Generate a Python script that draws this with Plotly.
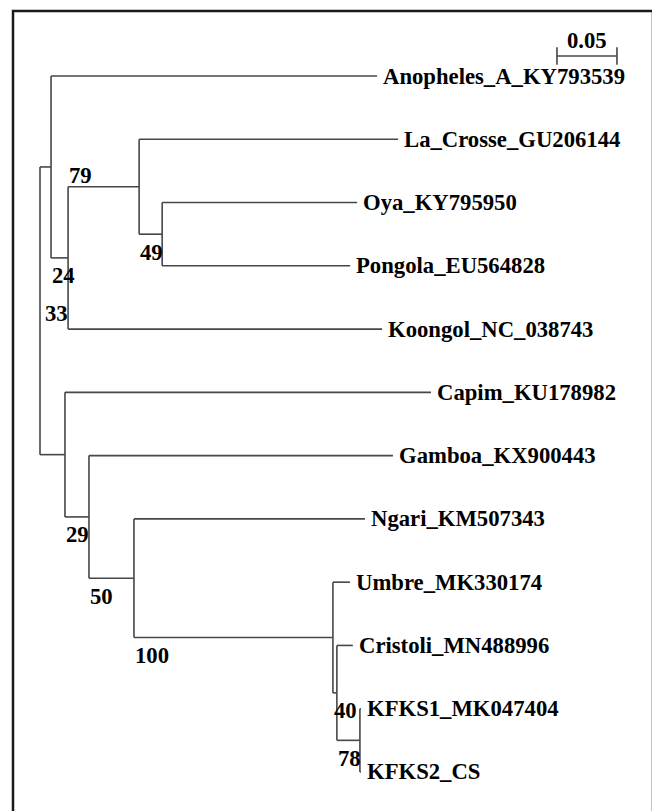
import plotly.graph_objects as go

# ---------------- data ----------------
tip_labels = [
    "Anopheles_A_KY793539", "La_Crosse_GU206144", "Oya_KY795950",
    "Pongola_EU564828", "Koongol_NC_038743", "Capim_KU178982",
    "Gamboa_KX900443", "Ngari_KM507343", "Umbre_MK330174",
    "Cristoli_MN488996", "KFKS1_MK047404", "KFKS2_CS",
]

# tree edges: node id, parent id, branch length (substitutions/site)
node_ids = [
    "nA", "n79", "nLC", "n49",
    "Anopheles_A_KY793539", "La_Crosse_GU206144", "Oya_KY795950",
    "Pongola_EU564828", "Koongol_NC_038743",
    "nB", "n29", "n50", "n100", "n40", "n78",
    "Capim_KU178982", "Gamboa_KX900443", "Ngari_KM507343",
    "Umbre_MK330174", "Cristoli_MN488996", "KFKS1_MK047404", "KFKS2_CS",
]
node_parents = [
    "root", "nA", "n79", "nLC",
    "nA", "nLC", "n49",
    "n49", "n79",
    "root", "nB", "n29", "n50", "n100", "n40",
    "nB", "n29", "n50",
    "n100", "n40", "n78", "n78",
]
branch_lengths = [
    0.0092, 0.0142, 0.0592, 0.0192,
    0.2717, 0.2158, 0.1625,
    0.1567, 0.2617,
    0.0208, 0.0200, 0.0375, 0.1658, 0.0033, 0.0192,
    0.3050, 0.2533, 0.1925,
    0.0142, 0.0133, 0.0008, 0.0008,
]

boot_nodes = ["nLC", "n49", "n79", "nA", "n29", "n50", "n100", "n40", "n78"]
boot_values = [79, 49, 24, 33, 29, 50, 100, 40, 78]

scale_length = 0.05
scale_label = "0.05"

# ---------------- layout computation ----------------
parent_of = dict(zip(node_ids, node_parents))
blen = dict(zip(node_ids, branch_lengths))
children = {}
for nid, par in zip(node_ids, node_parents):
    children.setdefault(par, []).append(nid)

depth = {"root": 0.0}
def set_depth(n):
    for c in children.get(n, []):
        depth[c] = depth[n] + blen[c]
        set_depth(c)
set_depth("root")

ypos = {t: i for i, t in enumerate(tip_labels)}
def set_y(n):
    if n in ypos:
        return ypos[n]
    ys = [set_y(c) for c in children[n]]
    ypos[n] = (min(ys) + max(ys)) / 2
    return ypos[n]
set_y("root")

xs, ys = [], []
for n, ch in children.items():
    cy = [ypos[c] for c in ch]
    xs += [depth[n], depth[n], None]
    ys += [min(cy), max(cy), None]
    for c in ch:
        xs += [depth[n], depth[c], None]
        ys += [ypos[c], ypos[c], None]

LINE_COLOR = "#474747"
fig = go.Figure()
fig.add_trace(go.Scatter(x=xs, y=ys, mode="lines",
                         line=dict(color=LINE_COLOR, width=1.6),
                         hoverinfo="skip", showlegend=False))

FONT = dict(family="Liberation Serif, Times New Roman, serif", size=22.7,
            color="black", weight="bold")

annotations = []
for t in tip_labels:
    annotations.append(dict(x=depth[t], y=ypos[t], text=t, showarrow=False,
                            xanchor="left", yanchor="middle", xshift=4,
                            font=FONT))

boot_shift = {"nLC": (0, 11), "nA": (4, -147)}
for n, v in zip(boot_nodes, boot_values):
    dx, dy = boot_shift.get(n, (0, -18))
    annotations.append(dict(x=depth[parent_of[n]], y=ypos[n], text=str(v),
                            showarrow=False, xanchor="left", yanchor="middle",
                            xshift=dx - 1, yshift=dy, font=FONT))

# scale bar
sx0 = 0.4308
sy = -0.316
sx1 = sx0 + scale_length
tick = 0.14
W, H, OFF = 652, 803, 8   # page body margin of 8px
shapes = [
    dict(type="line", x0=sx0, x1=sx1, y0=sy, y1=sy, line=dict(color=LINE_COLOR, width=1.6)),
    dict(type="line", x0=sx0, x1=sx0, y0=sy - tick, y1=sy + tick, line=dict(color=LINE_COLOR, width=1.6)),
    dict(type="line", x0=sx1, x1=sx1, y0=sy - tick, y1=sy + tick, line=dict(color=LINE_COLOR, width=1.6)),
    dict(type="rect", xref="paper", yref="paper", x0=(13 - OFF) / W, x1=(653 - OFF) / W,
         y0=-0.05, y1=1 - (11 - OFF) / H, line=dict(color="#1a1a1a", width=2.5)),
]
annotations.append(dict(x=(sx0 + sx1) / 2, y=sy, text=scale_label, showarrow=False,
                        xanchor="center", yanchor="bottom", yshift=1, font=FONT))

fig.update_layout(
    width=W, height=H,
    margin=dict(l=0, r=0, t=0, b=0),
    paper_bgcolor="white", plot_bgcolor="white",
    xaxis=dict(range=[(OFF - 40) / 1200, (OFF + W - 40) / 1200], visible=False, fixedrange=True),
    yaxis=dict(range=[(OFF + H - 76) / 63.27, (OFF - 76) / 63.27], visible=False, fixedrange=True),
    annotations=annotations, shapes=shapes,
)

fig.write_html("out.html")
